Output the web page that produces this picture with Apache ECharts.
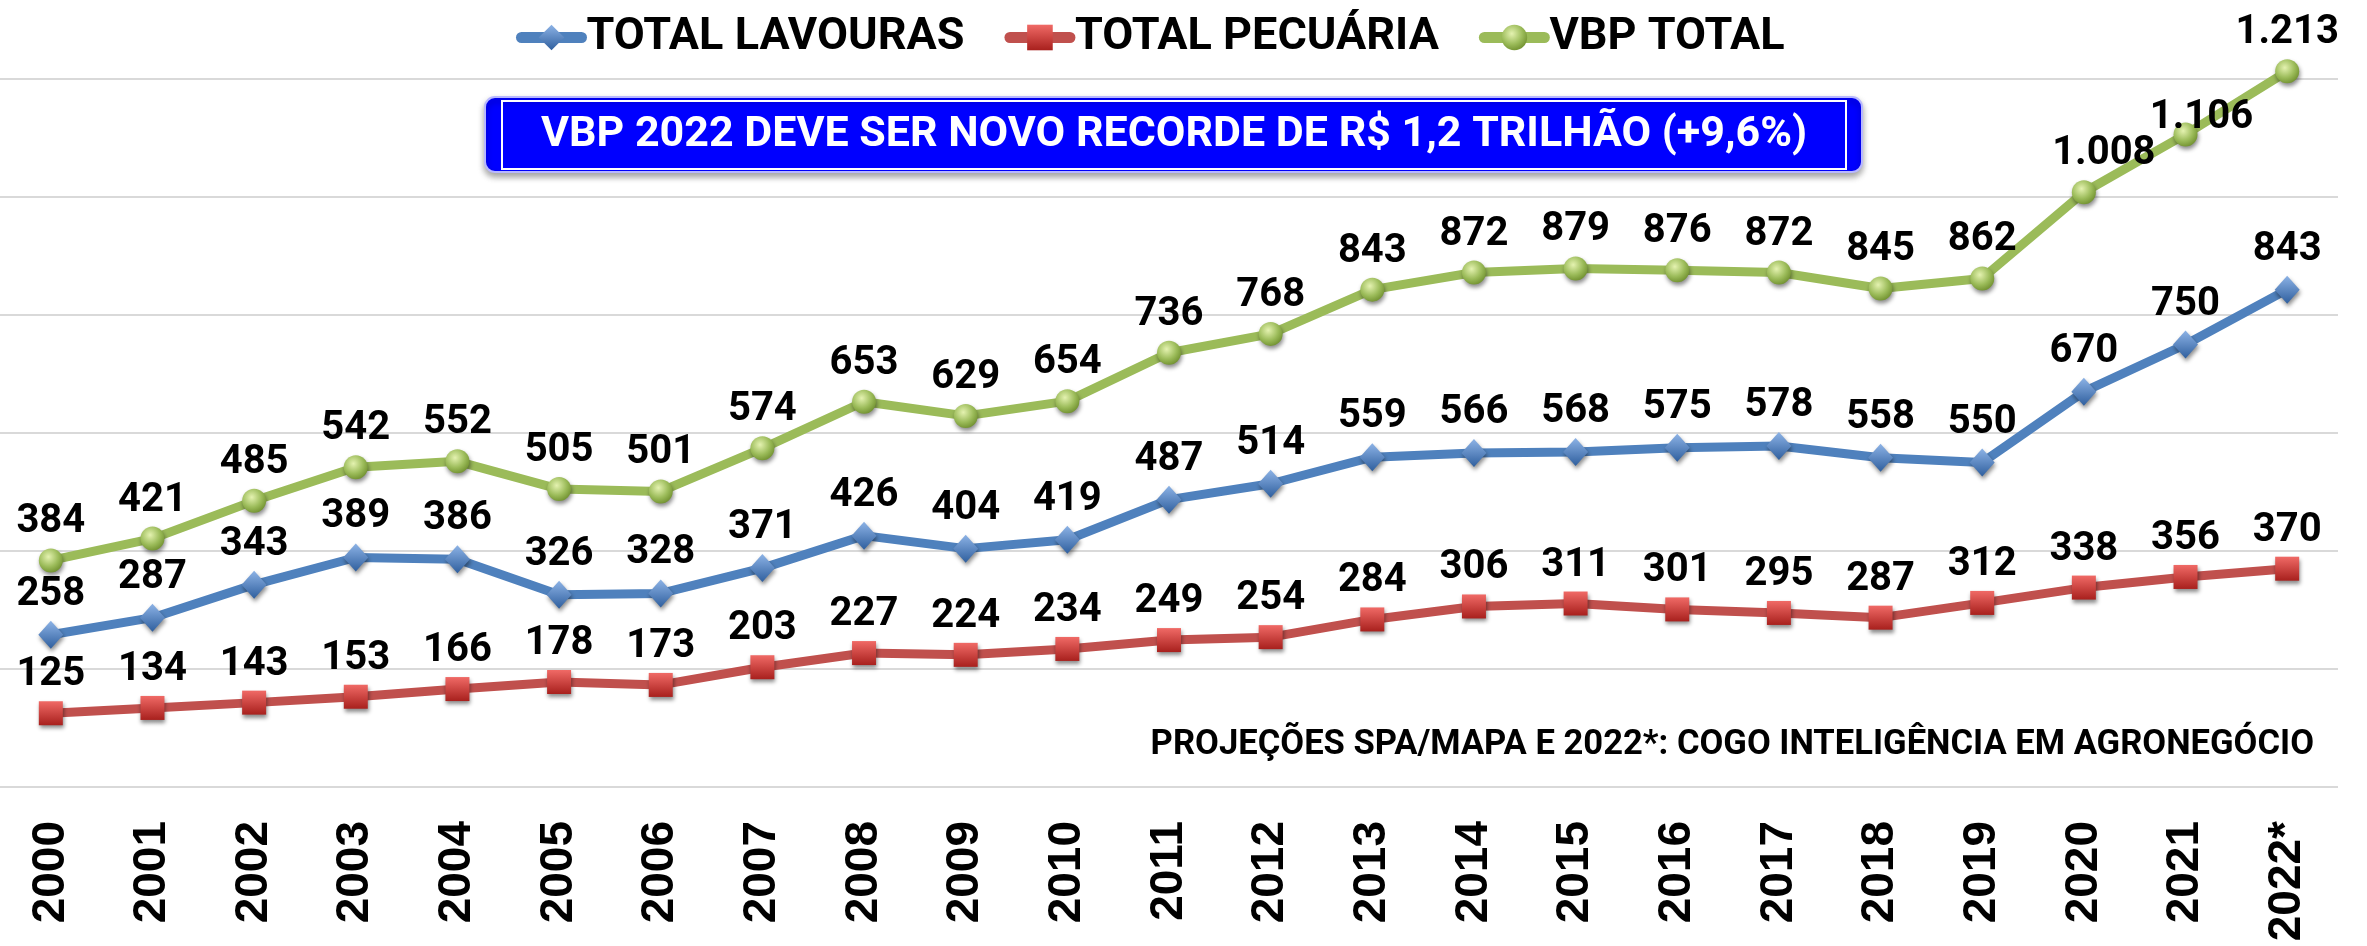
<!DOCTYPE html>
<html>
<head>
<meta charset="utf-8">
<script src="https://cdn.jsdelivr.net/npm/echarts@6/dist/echarts.min.js"></script>
<style>
  html, body { margin: 0; padding: 0; background: #fff; }
  #chart { width: 2367px; height: 946px; }
</style>
</head>
<body>
<div id="chart"></div>
<script>
// anos e valores (R$ bilhões)
const years = ['2000', '2001', '2002', '2003', '2004', '2005', '2006', '2007', '2008', '2009', '2010',
  '2011', '2012', '2013', '2014', '2015', '2016', '2017', '2018', '2019', '2020', '2021', '2022*'];
const lavouras = [258, 287, 343, 389, 386, 326, 328, 371, 426, 404, 419, 487, 514, 559, 566, 568, 575, 578, 558, 550, 670, 750, 843];
const pecuaria = [125, 134, 143, 153, 166, 178, 173, 203, 227, 224, 234, 249, 254, 284, 306, 311, 301, 295, 287, 312, 338, 356, 370];
const vbpTotal = [384, 421, 485, 542, 552, 505, 501, 574, 653, 629, 654, 736, 768, 843, 872, 879, 876, 872, 845, 862, 1008, 1106, 1213];
const seriesNames = ['TOTAL LAVOURAS', 'TOTAL PECUÁRIA', 'VBP TOTAL'];
const titleText = 'VBP 2022 DEVE SER NOVO RECORDE DE R$ 1,2 TRILHÃO (+9,6%)';
const noteText = 'PROJEÇÕES SPA/MAPA E 2022*: COGO INTELIGÊNCIA EM AGRONEGÓCIO';

// labels moved by hand in the original
const vbpLabelOffsets = { 20: [20, 0], 21: [16, 22] };

function fmt(v) {
  let s = String(v);
  if (v >= 1000) s = s.slice(0, s.length - 3) + '.' + s.slice(-3);
  return s;
}

let labelStyle = {
  show: true,
  position: 'top',
  distance: 6,
  color: '#000',
  fontFamily: 'Roboto',
  fontWeight: 'bold',
  fontSize: 40,
  formatter: p => fmt(p.value)
};

function grad(c1, c2) {
  return {
    type: 'linear', x: 0, y: 0, x2: 0, y2: 1,
    colorStops: [{ offset: 0, color: c1 }, { offset: 1, color: c2 }]
  };
}

let markerShadow = {
  shadowBlur: 4,
  shadowColor: 'rgba(0,0,0,0.45)',
  shadowOffsetX: 1,
  shadowOffsetY: 3
};

let chart = echarts.init(document.getElementById('chart'));
chart.setOption({
  backgroundColor: '#fff',
  animation: false,
  legend: {
    left: 511,
    top: 10,
    itemWidth: 60,
    itemHeight: 32,
    itemGap: 40,
    data: seriesNames,
    lineStyle: { width: 11, cap: 'round' },
    textStyle: { fontFamily: 'Roboto', fontWeight: 'bold', fontSize: 45, color: '#000' }
  },
  grid: { left: 0, right: 29, top: 79, bottom: 159, containLabel: false },
  xAxis: {
    type: 'category',
    data: years,
    axisLine: { show: false },
    axisTick: { show: false },
    axisLabel: {
      rotate: 90,
      margin: 34,
      interval: 0,
      color: '#000',
      fontFamily: 'Liberation Sans',
      fontWeight: 'bold',
      fontSize: 46
    }
  },
  yAxis: {
    type: 'value',
    min: 0,
    max: 1200,
    interval: 200,
    axisLabel: { show: false },
    axisLine: { show: false },
    axisTick: { show: false },
    splitLine: { lineStyle: { color: '#d9d9d9', width: 2 } }
  },
  graphic: [
    {
      type: 'rect',
      shape: { x: 485, y: 97, width: 1377, height: 75, r: 10 },
      style: {
        fill: '#0000ff', stroke: '#b8b8ff', lineWidth: 2,
        shadowBlur: 6, shadowColor: 'rgba(0,0,0,0.35)', shadowOffsetY: 4
      }
    },
    {
      type: 'rect',
      shape: { x: 502, y: 101, width: 1344, height: 68 },
      style: { fill: null, stroke: '#ffffff', lineWidth: 2 }
    },
    {
      type: 'text',
      x: 1174,
      y: 135,
      style: {
        text: titleText,
        fill: '#fff',
        font: 'bold 43px Roboto',
        align: 'center',
        verticalAlign: 'middle'
      }
    },
    {
      type: 'text',
      x: 2314,
      y: 745,
      style: {
        text: noteText,
        fill: '#000',
        font: 'bold 34.6px Roboto',
        align: 'right',
        verticalAlign: 'middle'
      }
    }
  ],
  series: [
    {
      name: seriesNames[0],
      type: 'line',
      data: lavouras,
      clip: false,
      symbol: 'diamond',
      symbolSize: [25, 28],
      lineStyle: { color: '#4f81bd', width: 9 },
      itemStyle: Object.assign({ color: grad('#8db3e6', '#2f5f9e') }, markerShadow),
      label: labelStyle,
      z: 3
    },
    {
      name: seriesNames[1],
      type: 'line',
      data: pecuaria,
      clip: false,
      symbol: 'rect',
      symbolSize: 24,
      lineStyle: { color: '#c0504d', width: 9 },
      itemStyle: Object.assign({ color: grad('#f06a66', '#a8201d') }, markerShadow),
      label: labelStyle,
      z: 2
    },
    {
      name: seriesNames[2],
      type: 'line',
      data: vbpTotal.map((v, i) => vbpLabelOffsets[i]
        ? { value: v, label: { offset: vbpLabelOffsets[i] } }
        : v),
      clip: false,
      symbol: 'circle',
      symbolSize: 24,
      lineStyle: { color: '#9bbb59', width: 9 },
      itemStyle: Object.assign({
        color: {
          type: 'radial', x: 0.4, y: 0.35, r: 0.7,
          colorStops: [{ offset: 0, color: '#e4f2b0' }, { offset: 0.6, color: '#9bbb59' }, { offset: 1, color: '#6f8f2e' }]
        }
      }, markerShadow),
      label: labelStyle,
      z: 4
    }
  ]
});
</script>
</body>
</html>
